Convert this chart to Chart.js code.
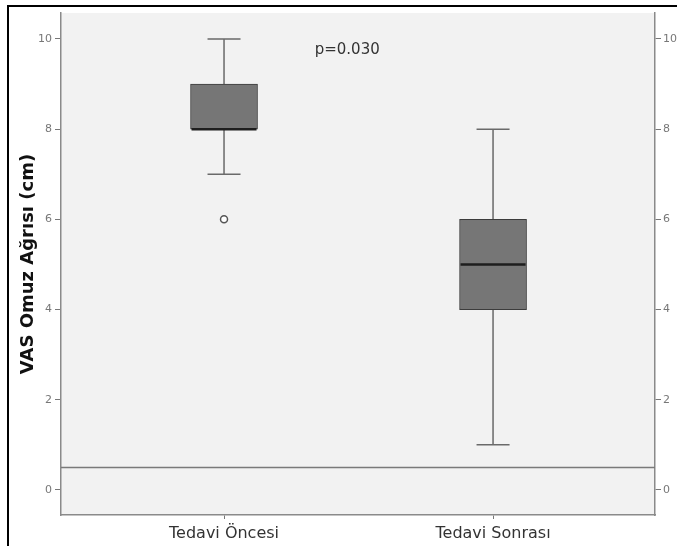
<!DOCTYPE html>
<html>
<head>
<meta charset="utf-8">
<script src="https://cdn.jsdelivr.net/npm/chart.js@4"></script>
<style>
  html, body { margin: 0; padding: 0; background: #fff; }
  #wrap { position: relative; width: 677px; height: 548px; }
  #frame { position: absolute; left: 7px; top: 5px; right: 0; bottom: 2px;
           border-left: 2px solid #000; border-top: 2px solid #000; pointer-events: none; }
  canvas { position: absolute; left: 0; top: 0; }
</style>
</head>
<body>
<div id="wrap">
  <canvas id="chart" width="677" height="548"></canvas>
  <div id="frame"></div>
</div>
<script>
// Veri
const groups = ['Tedavi Öncesi', 'Tedavi Sonrası'];
const whiskerLow = [7, 1];
const q1 = [8, 4];
const median = [8, 5];
const q3 = [9, 6];
const whiskerHigh = [10, 8];
const outliers = [{ x: 0, y: 6 }];
const yTicks = [0, 2, 4, 6, 8, 10];
const refLine = 0.5;
const pText = 'p=0.030';

// kutu çizimi yardımcı eklentisi
const boxPlugin = {
  id: 'boxExtras',
  beforeDraw(chart) {
    const { ctx, chartArea: a } = chart;
    ctx.save();
    ctx.fillStyle = '#f2f2f2';
    ctx.fillRect(a.left, a.top, a.right - a.left, a.bottom - a.top);
    ctx.restore();
  },
  beforeDatasetsDraw(chart) {
    const { ctx, chartArea: a } = chart;
    const xs = chart.scales.x, ys = chart.scales.y;
    ctx.save();
    // referans çizgisi
    ctx.strokeStyle = '#7a7a7a';
    ctx.lineWidth = 1.5;
    const ry = ys.getPixelForValue(refLine);
    ctx.beginPath();
    ctx.moveTo(a.left, ry);
    ctx.lineTo(a.right, ry);
    ctx.stroke();
    // bıyıklar
    ctx.strokeStyle = '#6a6a6a';
    ctx.lineWidth = 1.5;
    const cap = 16.5;
    groups.forEach((g, i) => {
      const cx = xs.getPixelForValue(i);
      const yl = ys.getPixelForValue(whiskerLow[i]);
      const yh = ys.getPixelForValue(whiskerHigh[i]);
      ctx.beginPath();
      ctx.moveTo(cx, yl); ctx.lineTo(cx, yh);
      ctx.moveTo(cx - cap, yl); ctx.lineTo(cx + cap, yl);
      ctx.moveTo(cx - cap, yh); ctx.lineTo(cx + cap, yh);
      ctx.stroke();
    });
    ctx.restore();
  },
  afterDatasetsDraw(chart) {
    const { ctx } = chart;
    const xs = chart.scales.x, ys = chart.scales.y;
    const meta = chart.getDatasetMeta(0);
    ctx.save();
    ctx.strokeStyle = '#1e1e1e';
    ctx.lineWidth = 2.5;
    groups.forEach((g, i) => {
      const bar = meta.data[i];
      const half = bar.width / 2;
      const my = ys.getPixelForValue(median[i]);
      ctx.beginPath();
      ctx.moveTo(bar.x - half + 1, my);
      ctx.lineTo(bar.x + half - 1, my);
      ctx.stroke();
    });
    // p değeri
    ctx.fillStyle = '#333';
    ctx.font = '15px "DejaVu Sans"';
    ctx.textAlign = 'center';
    ctx.textBaseline = 'middle';
    ctx.fillText(pText, xs.getPixelForValue(0.458), ys.getPixelForValue(9.76));
    ctx.restore();
  }
};

const tickFont = { family: 'DejaVu Sans', size: 11 };

new Chart(document.getElementById('chart'), {
  data: {
    datasets: [
      {
        type: 'bar',
        data: groups.map((g, i) => ({ x: i, y: [q1[i], q3[i]] })),
        backgroundColor: '#767676',
        borderColor: '#3c3c3c',
        borderWidth: 1,
        borderSkipped: false,
        barThickness: 67
      },
      {
        type: 'scatter',
        data: outliers,
        pointStyle: 'circle',
        pointRadius: 3.5,
        pointBackgroundColor: '#ffffff',
        pointBorderColor: '#555',
        pointBorderWidth: 1.5
      }
    ]
  },
  options: {
    responsive: false,
    animation: false,
    layout: { padding: { top: 13, left: 0, right: 0, bottom: 0 } },
    plugins: { legend: { display: false }, tooltip: { enabled: false } },
    scales: {
      x: {
        type: 'linear',
        min: -0.606,
        max: 1.602,
        offset: false,
        afterBuildTicks: s => { s.ticks = groups.map((g, i) => ({ value: i })); },
        afterFit: s => { s.height = 33; },
        grid: { offset: false, drawOnChartArea: false, drawTicks: true, tickLength: 4, color: '#777' },
        border: { color: '#8a8a8a', width: 1.5 },
        ticks: { callback: v => groups[v], color: '#333', padding: 5, maxRotation: 0,
                 font: { family: 'DejaVu Sans', size: 16 } }
      },
      y: {
        type: 'linear',
        position: 'left',
        min: -0.555,
        max: 10.575,
        afterBuildTicks: s => { s.ticks = yTicks.map(v => ({ value: v })); },
        afterFit: s => { s.width = 61; },
        grid: { drawOnChartArea: false, drawTicks: true, tickLength: 6, color: '#777' },
        border: { color: '#8a8a8a', width: 1.5 },
        ticks: { color: '#777', padding: 3, font: tickFont },
        title: { display: true, text: 'VAS Omuz Ağrısı (cm)', color: '#111',
                 font: { family: 'DejaVu Sans', size: 18, weight: 'bold' },
                 padding: { top: 18, bottom: 0 } }
      },
      y2: {
        type: 'linear',
        position: 'right',
        min: -0.555,
        max: 10.575,
        afterBuildTicks: s => { s.ticks = yTicks.map(v => ({ value: v })); },
        afterFit: s => { s.width = 22; },
        grid: { drawOnChartArea: false, drawTicks: true, tickLength: 6, color: '#777' },
        border: { color: '#8a8a8a', width: 1.5 },
        ticks: { color: '#777', padding: 2, font: tickFont }
      }
    }
  },
  plugins: [boxPlugin]
});
</script>
</body>
</html>
